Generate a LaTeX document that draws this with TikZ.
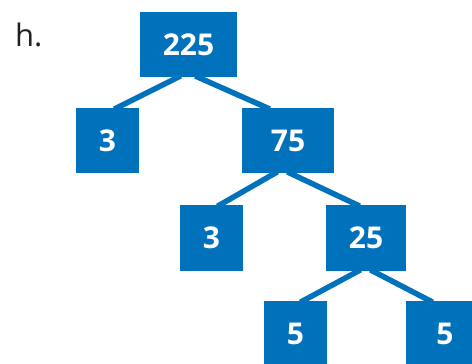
\documentclass[tikz,border=0pt]{standalone}
\usepackage{fontspec}
\setmainfont{Open Sans}
\usetikzlibrary{calc}
\definecolor{boxblue}{RGB}{0,114,188}
\definecolor{labelgray}{RGB}{35,31,32}
\tikzset{
  numbox/.style={rectangle, fill=boxblue, draw=none, inner sep=0pt, anchor=center,
    minimum height=65pt, text=white, font=\fontsize{30}{36}\selectfont\bfseries},
  link/.style={draw=boxblue, line width=5.5pt, shorten <=-3pt, shorten >=-3pt}
}
\begin{document}
\begin{tikzpicture}[x=1pt,y=-1pt]
\useasboundingbox (0,0) rectangle (472,364);
\node[anchor=base west, text=labelgray, inner sep=0pt, font=\fontsize{31}{36}\selectfont] (lbl) at (15,46) {h.};
\node[numbox, minimum width=97pt] (n225) at (188.5,44.5) {225};
\node[numbox, minimum width=63pt] (a3) at (107.5,140.5) {3};
\node[numbox, minimum width=92pt] (n75) at (288,140.5) {75};
\node[numbox, minimum width=63pt, minimum height=66pt] (b3) at (211.5,238) {3};
\node[numbox, minimum width=80pt, minimum height=66pt] (n25) at (366,238) {25};
\node[numbox, minimum width=63pt] (c5) at (295.5,333.5) {5};
\node[numbox, minimum width=78pt] (d5) at (445,333.5) {5};
\draw[link] ($(n225.south)+(-10.5,0)$) -- ($(a3.north)+(9.5,0)$);
\draw[link] ($(n225.south)+(9.5,0)$) -- ($(n75.north)+(-21,0)$);
\draw[link] ($(n75.south)+(-13,0)$) -- ($(b3.north)+(8.5,0)$);
\draw[link] ($(n75.south)+(2,0)$) -- ($(n25.north)+(-9,0)$);
\draw[link] ($(n25.south)+(-8,0)$) -- ($(c5.north)+(7.5,0)$);
\draw[link] ($(n25.south)+(7,0)$) -- ($(d5.north)+(-15,0)$);
\end{tikzpicture}
\end{document}
